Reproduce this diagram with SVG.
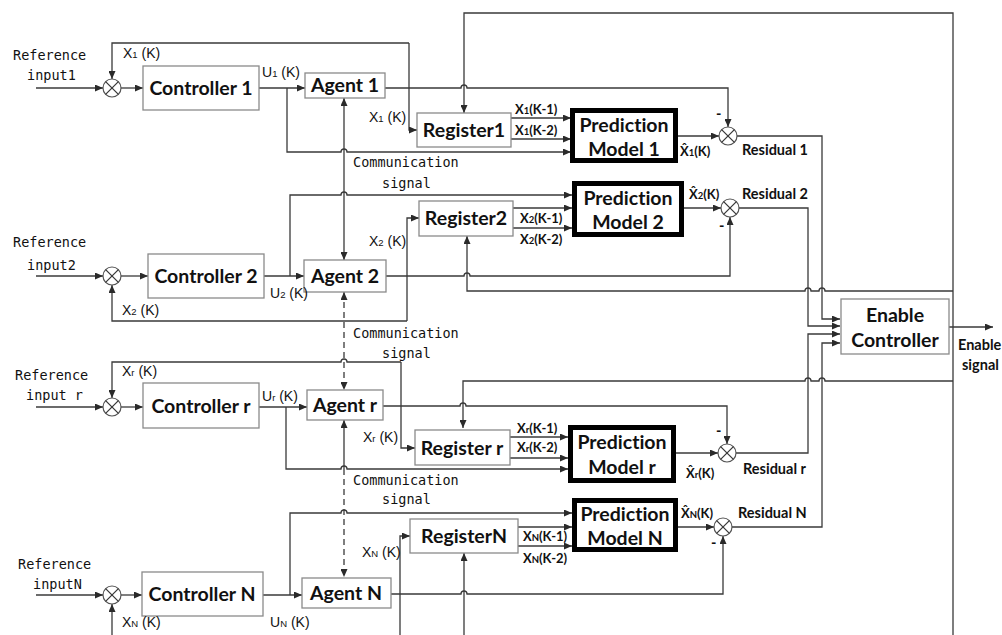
<svg xmlns="http://www.w3.org/2000/svg" width="1002" height="635" viewBox="0 0 1002 635">
<defs>
<marker id="ar" markerUnits="userSpaceOnUse" markerWidth="8" markerHeight="7" refX="8" refY="3.5" orient="auto-start-reverse"><path d="M0,0 L8,3.5 L0,7 z" fill="#2a2a2a"/></marker>
<style>
text{font-variant-ligatures:none}
.ln{fill:none;stroke:#3a3a3a;stroke-width:1.3}
.a{marker-end:url(#ar)}
.b{marker-start:url(#ar);marker-end:url(#ar)}
.s{marker-start:url(#ar)}
.d{stroke-dasharray:6,4}
.box{fill:#fff;stroke:#8a8a8a;stroke-width:1.3}
.pm{fill:#fff;stroke:#000;stroke-width:5}
.sum{fill:#fff;stroke:#555;stroke-width:1.2}
.bl{font-family:Lato,"Liberation Sans",sans-serif;font-weight:bold;font-size:19.5px;fill:#111;text-anchor:middle}
.mono{font-family:"DejaVu Sans Mono","Liberation Mono",monospace;font-size:13.5px;fill:#111}
.sig{font-family:"Liberation Sans",sans-serif;font-size:14px;fill:#111}
.sm{font-family:Lato,"DejaVu Sans",sans-serif;font-weight:bold;font-size:13px;fill:#111}
.res{font-family:Lato,"Liberation Sans",sans-serif;font-weight:bold;font-size:14.5px;fill:#111}
.sub{font-size:9.5px}
</style>
</defs>
<rect width="1002" height="635" fill="#fff"/>

<g id="connectors">
<path class="ln a" d="M36,88 H103"/>
<path class="ln a" d="M409,43 H112 V79"/>
<path class="ln a" d="M409,43 V130 H417"/>
<path class="ln a" d="M121,88 H143"/>
<path class="ln a" d="M259,88 H305"/>
<path class="ln a" d="M287,88 V152 H341 a3,3 0 0 1 6,0 H571"/>
<path class="ln a" d="M385,88 H461 a3,3 0 0 1 6,0 H728 V127"/>
<path class="ln a" d="M953,635 V13 H464 V113"/>
<path class="ln a" d="M511,118 H571"/>
<path class="ln a" d="M511,139 H571"/>
<path class="ln a" d="M678,136 H719"/>
<path class="ln a" d="M737,136 H822 V319 H840"/>
<path class="ln b" d="M344,98 V260"/>
<path class="ln a" d="M36,276 H103"/>
<path class="ln a" d="M121,276 H148"/>
<path class="ln a" d="M264,276 H304"/>
<path class="ln a" d="M290,276 V195 H341 a3,3 0 0 1 6,0 H572"/>
<path class="ln a" d="M386,276 H464 a3,3 0 0 1 6,0 H730 V217"/>
<path class="ln a" d="M407,321 H112 V285"/>
<path class="ln a" d="M407,321 V218 H419"/>
<path class="ln a" d="M513,208 H572"/>
<path class="ln a" d="M513,228 H572"/>
<path class="ln a" d="M684,208 H721"/>
<path class="ln a" d="M739,208 H808 V326 H840"/>
<path class="ln a" d="M953,291 H825 a3,3 0 0 0 -6,0 H811 a3,3 0 0 0 -6,0 H467 V236"/>
<path class="ln b d" d="M344,292 V390"/>
<path class="ln a" d="M36,407 H103"/>
<path class="ln a" d="M401,362 H347 a3,3 0 0 0 -6,0 H112 V398"/>
<path class="ln a" d="M401,362 V448 H415"/>
<path class="ln a" d="M121,407 H143"/>
<path class="ln a" d="M259,407 H307"/>
<path class="ln a" d="M286,407 V469 H341 a3,3 0 0 1 6,0 H568"/>
<path class="ln a" d="M383,406 H460 a3,3 0 0 1 6,0 H727 V444"/>
<path class="ln a" d="M953,381 H825 a3,3 0 0 0 -6,0 H811 a3,3 0 0 0 -6,0 H463 V428"/>
<path class="ln a" d="M510,437 H568"/>
<path class="ln a" d="M510,458 H568"/>
<path class="ln a" d="M676,453 H718"/>
<path class="ln a" d="M736,453 H808 V334 H840"/>
<path class="ln s" d="M344,420 V469"/>
<path class="ln a d" d="M344,469 V577"/>
<path class="ln a" d="M36,595 H103"/>
<path class="ln a" d="M121,595 H142"/>
<path class="ln a" d="M263,595 H302"/>
<path class="ln a" d="M290,595 V513 H341 a3,3 0 0 1 6,0 H572"/>
<path class="ln a" d="M391,594 H461 a3,3 0 0 1 6,0 H723 V536"/>
<path class="ln a" d="M112,635 V604"/>
<path class="ln a" d="M400,635 V536 H410"/>
<path class="ln a" d="M464,635 V553"/>
<path class="ln a" d="M518,527 H572"/>
<path class="ln a" d="M518,546 H572"/>
<path class="ln a" d="M678,527 H714"/>
<path class="ln a" d="M732,527 H822 V343 H840"/>
<path class="ln a" d="M949,327 H993"/>
</g>

<g id="sum1"><circle class="sum" cx="112" cy="88" r="9"/><path class="ln" d="M105.6,81.6 L118.4,94.4 M118.4,81.6 L105.6,94.4"/></g>
<g id="sum2"><circle class="sum" cx="112" cy="276" r="9"/><path class="ln" d="M105.6,269.6 L118.4,282.4 M118.4,269.6 L105.6,282.4"/></g>
<g id="sumr"><circle class="sum" cx="112" cy="407" r="9"/><path class="ln" d="M105.6,400.6 L118.4,413.4 M118.4,400.6 L105.6,413.4"/></g>
<g id="sumN"><circle class="sum" cx="112" cy="595" r="9"/><path class="ln" d="M105.6,588.6 L118.4,601.4 M118.4,588.6 L105.6,601.4"/></g>
<g id="res1"><circle class="sum" cx="728" cy="136" r="9"/><path class="ln" d="M721.6,129.6 L734.4,142.4 M734.4,129.6 L721.6,142.4"/></g>
<g id="res2"><circle class="sum" cx="730" cy="208" r="9"/><path class="ln" d="M723.6,201.6 L736.4,214.4 M736.4,201.6 L723.6,214.4"/></g>
<g id="resr"><circle class="sum" cx="727" cy="453" r="9"/><path class="ln" d="M720.6,446.6 L733.4,459.4 M733.4,446.6 L720.6,459.4"/></g>
<g id="resN"><circle class="sum" cx="723" cy="527" r="9"/><path class="ln" d="M716.6,520.6 L729.4,533.4 M729.4,520.6 L716.6,533.4"/></g>

<g id="controller1"><rect class="box" x="143" y="66" width="116" height="44"/><text class="bl" x="201" y="95">Controller 1</text></g>
<g id="controller2"><rect class="box" x="148" y="254" width="116" height="44"/><text class="bl" x="206" y="283">Controller 2</text></g>
<g id="controllerr"><rect class="box" x="143" y="383" width="116" height="45"/><text class="bl" x="201" y="413">Controller r</text></g>
<g id="controllerN"><rect class="box" x="142" y="572" width="121" height="44"/><text class="bl" x="202" y="601">Controller N</text></g>

<g id="agent1"><rect class="box" x="305" y="73" width="80" height="25"/><text class="bl" x="345" y="92">Agent 1</text></g>
<g id="agent2"><rect class="box" x="304" y="260" width="82" height="32"/><text class="bl" x="345" y="283">Agent 2</text></g>
<g id="agentr"><rect class="box" x="307" y="390" width="76" height="30"/><text class="bl" x="345" y="412">Agent r</text></g>
<g id="agentN"><rect class="box" x="302" y="578" width="89" height="30"/><text class="bl" x="346" y="600">Agent N</text></g>

<g id="register1"><rect class="box" x="417" y="113" width="94" height="34"/><text class="bl" x="464" y="137">Register1</text></g>
<g id="register2"><rect class="box" x="419" y="201" width="94" height="35"/><text class="bl" x="466" y="225">Register2</text></g>
<g id="registerr"><rect class="box" x="415" y="430" width="95" height="35"/><text class="bl" x="462" y="455">Register r</text></g>
<g id="registerN"><rect class="box" x="410" y="519" width="108" height="34"/><text class="bl" x="464" y="543">RegisterN</text></g>

<g id="pm1"><rect class="pm" x="572.5" y="110.5" width="103" height="50"/><text class="bl" x="624" y="132">Prediction</text><text class="bl" x="624" y="156">Model 1</text></g>
<g id="pm2"><rect class="pm" x="574.5" y="183.5" width="107" height="51"/><text class="bl" x="628" y="205">Prediction</text><text class="bl" x="628" y="229">Model 2</text></g>
<g id="pmr"><rect class="pm" x="570.5" y="427.5" width="103" height="53"/><text class="bl" x="622" y="449">Prediction</text><text class="bl" x="622" y="474">Model r</text></g>
<g id="pmN"><rect class="pm" x="574.5" y="500.5" width="101" height="49"/><text class="bl" x="625" y="521">Prediction</text><text class="bl" x="625" y="545">Model N</text></g>

<g id="enable"><rect class="box" x="841" y="299" width="108" height="55"/><text class="bl" x="895" y="322">Enable</text><text class="bl" x="895" y="347">Controller</text></g>

<g id="labels">
<text class="mono" x="13" y="60">Reference</text><text class="mono" x="27" y="80">input1</text>
<text class="mono" x="13" y="247">Reference</text><text class="mono" x="27" y="270">input2</text>
<text class="mono" x="15" y="380">Reference</text><text class="mono" x="26" y="400">input r</text>
<text class="mono" x="18" y="569">Reference</text><text class="mono" x="33" y="589">inputN</text>

<text class="mono" x="353" y="167">Communication</text><text class="mono" x="382" y="188">signal</text>
<text class="mono" x="353" y="338">Communication</text><text class="mono" x="382" y="358">signal</text>
<text class="mono" x="353" y="485">Communication</text><text class="mono" x="382" y="504">signal</text>

<text class="sig" x="123" y="58">X<tspan class="sub">1</tspan> (K)</text>
<text class="sig" x="262" y="77">U<tspan class="sub">1</tspan> (K)</text>
<text class="sig" x="369" y="122">X<tspan class="sub">1</tspan> (K)</text>
<text class="sig" x="122" y="315">X<tspan class="sub">2</tspan> (K)</text>
<text class="sig" x="270" y="298">U<tspan class="sub">2</tspan> (K)</text>
<text class="sig" x="369" y="246">X<tspan class="sub">2</tspan> (K)</text>
<text class="sig" x="122" y="376">X<tspan class="sub">r</tspan> (K)</text>
<text class="sig" x="262" y="401">U<tspan class="sub">r</tspan> (K)</text>
<text class="sig" x="363" y="442">X<tspan class="sub">r</tspan> (K)</text>
<text class="sig" x="122" y="627">X<tspan class="sub">N</tspan> (K)</text>
<text class="sig" x="270" y="627">U<tspan class="sub">N</tspan> (K)</text>
<text class="sig" x="362" y="557">X<tspan class="sub">N</tspan> (K)</text>

<text class="sm" x="515" y="114">X<tspan class="sub">1</tspan>(K-1)</text>
<text class="sm" x="515" y="135">X<tspan class="sub">1</tspan>(K-2)</text>
<text class="sm" x="520" y="223">X<tspan class="sub">2</tspan>(K-1)</text>
<text class="sm" x="520" y="244">X<tspan class="sub">2</tspan>(K-2)</text>
<text class="sm" x="517" y="433">X<tspan class="sub">r</tspan>(K-1)</text>
<text class="sm" x="517" y="452">X<tspan class="sub">r</tspan>(K-2)</text>
<text class="sm" x="523" y="541">X<tspan class="sub">N</tspan>(K-1)</text>
<text class="sm" x="523" y="563">X<tspan class="sub">N</tspan>(K-2)</text>

<text class="sm" x="680" y="156">X&#x302;<tspan class="sub">1</tspan>(K)</text>
<text class="sm" x="689" y="199">X&#x302;<tspan class="sub">2</tspan>(K)</text>
<text class="sm" x="686" y="478">X&#x302;<tspan class="sub">r</tspan>(K)</text>
<text class="sm" x="681" y="518">X&#x302;<tspan class="sub">N</tspan>(K)</text>

<text class="res" x="716" y="119">-</text>
<text class="res" x="719" y="231">-</text>
<text class="res" x="716" y="436">-</text>
<text class="res" x="711" y="548">-</text>

<text class="res" x="742" y="155">Residual 1</text>
<text class="res" x="742" y="199">Residual 2</text>
<text class="res" x="743" y="474">Residual r</text>
<text class="res" x="738" y="518">Residual N</text>

<text class="res" x="958" y="350">Enable</text>
<text class="res" x="962" y="370">signal</text>
</g>
</svg>
